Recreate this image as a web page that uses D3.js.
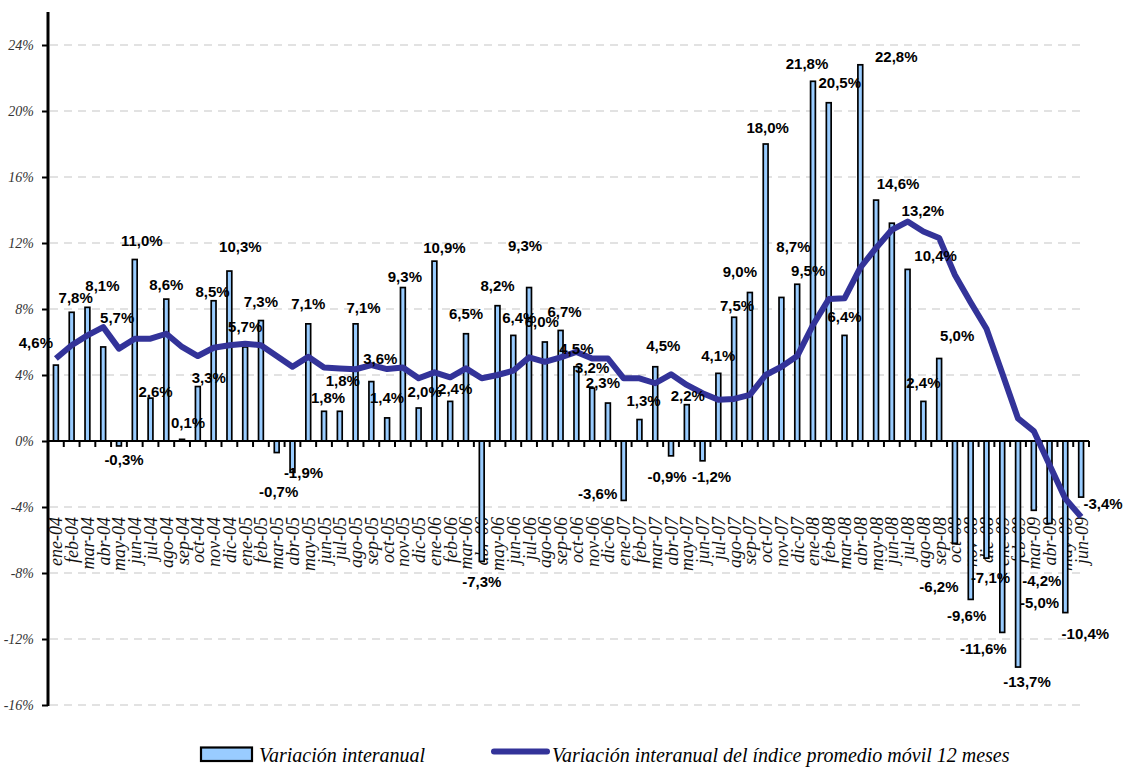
<!DOCTYPE html>
<html>
<head>
<meta charset="utf-8">
<script src="https://cdn.jsdelivr.net/npm/d3@7/dist/d3.min.js"></script>
<style>
  html, body { margin: 0; padding: 0; background: #ffffff; }
  svg { display: block; }
  .serif { font-family: "Liberation Serif", "Times New Roman", "DejaVu Serif", serif; font-style: italic; }
  .sans { font-family: "Liberation Sans", Arial, sans-serif; font-weight: bold; }
</style>
</head>
<body>
<svg id="chart" width="1128" height="769"></svg>
<script>
// Monthly categories, ene-04 .. jun-09
const categories = [
  "ene-04","feb-04","mar-04","abr-04","may-04","jun-04","jul-04","ago-04","sep-04","oct-04","nov-04","dic-04",
  "ene-05","feb-05","mar-05","abr-05","may-05","jun-05","jul-05","ago-05","sep-05","oct-05","nov-05","dic-05",
  "ene-06","feb-06","mar-06","abr-06","may-06","jun-06","jul-06","ago-06","sep-06","oct-06","nov-06","dic-06",
  "ene-07","feb-07","mar-07","abr-07","may-07","jun-07","jul-07","ago-07","sep-07","oct-07","nov-07","dic-07",
  "ene-08","feb-08","mar-08","abr-08","may-08","jun-08","jul-08","ago-08","sep-08","oct-08","nov-08","dic-08",
  "ene-09","feb-09","mar-09","abr-09","may-09","jun-09"
];

// Variación interanual (%)
const interanual = [
  4.6, 7.8, 8.1, 5.7, -0.3, 11.0, 2.6, 8.6, 0.1, 3.3, 8.5, 10.3,
  5.7, 7.3, -0.7, -1.9, 7.1, 1.8, 1.8, 7.1, 3.6, 1.4, 9.3, 2.0,
  10.9, 2.4, 6.5, -7.3, 8.2, 6.4, 9.3, 6.0, 6.7, 4.5, 3.2, 2.3,
  -3.6, 1.3, 4.5, -0.9, 2.2, -1.2, 4.1, 7.5, 9.0, 18.0, 8.7, 9.5,
  21.8, 20.5, 6.4, 22.8, 14.6, 13.2, 10.4, 2.4, 5.0, -6.2, -9.6, -7.1,
  -11.6, -13.7, -4.2, -5.0, -10.4, -3.4
];

// Variación interanual del índice promedio móvil 12 meses (%)
const promedioMovil = [
  5.0, 5.8, 6.4, 6.9, 5.6, 6.2, 6.2, 6.5, 5.7, 5.15, 5.65, 5.8,
  5.9, 5.8, 5.15, 4.5, 5.1, 4.45, 4.4, 4.35, 4.6, 4.36, 4.46, 3.8,
  4.16, 3.86, 4.4, 3.8, 4.0, 4.26, 5.07, 4.8, 5.07, 5.4, 5.0, 5.0,
  3.8, 3.8, 3.5, 4.04, 3.4, 2.9, 2.5, 2.55, 2.8, 4.0, 4.5, 5.15,
  7.03, 8.6, 8.65, 10.5, 11.7, 12.8, 13.3, 12.7, 12.3, 10.06, 8.4, 6.8,
  4.1, 1.37, 0.6, -1.45, -3.5, -4.6
];

// Y axis tick values (%)
const yTicks = [-16, -12, -8, -4, 0, 4, 8, 12, 16, 20, 24];

// Legend entries
const legendBarText = "Variación interanual";
const legendLineText = "Variación interanual del índice promedio móvil 12 meses";

// Hand-placed data label nudges [dx, dy] from the end of each bar (px)
const labelNudge = [
  [-20,-22],[4,-15],[15,-22],[14,-29],[5,14],[7,-19],[5,-6],[0,-14],[6,-17],[11,-9],[-1,-9],[11,-24],
  [0,-20],[0,-19],[2,39],[11,0],[0,-20],[4,-14],[3,-31],[8,-16],[9,-23],[0,-20],[2,-11],[6,-16],
  [10,-13],[5,-13],[0,-20],[0,20],[0,-20],[6,-18],[-4,-42],[-3,-20],[4,-19],[0,-18],[0,-20],[-5,-20],
  [-26,-7],[4,-19],[8,-21],[-4,21],[1,-9],[9,16],[0,-18],[3,-12],[-10,-21],[2,-16],[12,-51],[11,-14],
  [-6,-18],[11,-20],[0,-19],[36,-8],[22,-16],[31,-12],[28,-14],[0,-19],[18,-23],[-16,43],[-4,16],[4,20],
  [-19,16],[9,15],[8,70],[-10,79],[20,21],[22,7]
];

const data = categories.map((c, i) => ({
  cat: c, bar: interanual[i], avg: promedioMovil[i], nudge: labelNudge[i]
}));

const svg = d3.select("#chart");
const plot = { left: 48, right: 1089, top: 12, bottom: 705 };

const x = d3.scaleBand()
  .domain(categories)
  .range([plot.left, plot.right])
  .paddingInner(0)
  .paddingOuter(0);

const y = d3.scaleLinear()
  .domain([-16, 26])
  .range([plot.bottom, plot.top]);

const cx = d => x(d) + x.bandwidth() / 2;
const fmt = v => v.toFixed(1).replace(".", ",") + "%";

// Dashed horizontal gridlines
svg.append("g")
  .selectAll("line")
  .data(yTicks.filter(t => t !== 0))
  .join("line")
  .attr("x1", plot.left + 2)
  .attr("x2", plot.right - 4)
  .attr("y1", d => y(d))
  .attr("y2", d => y(d))
  .attr("stroke", "#c6c6c6")
  .attr("stroke-width", 1.2)
  .attr("stroke-dasharray", "8,6");

// Y axis
const yAxis = d3.axisLeft(y)
  .tickValues(yTicks)
  .tickSize(6)
  .tickPadding(8)
  .tickFormat(d => d + "%");

const gy = svg.append("g")
  .attr("transform", `translate(${plot.left},0)`)
  .call(yAxis);
gy.attr("font-family", null).attr("font-size", null);
gy.select(".domain").remove();
gy.selectAll(".tick line").attr("stroke", "#000").attr("stroke-width", 2);
gy.selectAll(".tick text")
  .attr("class", "serif")
  .style("font-size", "14px")
  .attr("fill", "#333");

svg.append("line")
  .attr("x1", plot.left).attr("x2", plot.left)
  .attr("y1", plot.top).attr("y2", y(-16) + 1)
  .attr("stroke", "#000").attr("stroke-width", 3);

// Category labels, rotated, in a band below the axis
svg.append("g")
  .selectAll("text")
  .data(categories)
  .join("text")
  .attr("class", "serif")
  .attr("transform", d => `translate(${cx(d)},${y(-4.6)}) rotate(-90)`)
  .attr("text-anchor", "end")
  .attr("dy", "0.36em")
  .style("font-size", "18px")
  .attr("fill", "#111")
  .text(d => d);

// Bars
const barW = 4.8;
svg.append("g")
  .selectAll("rect")
  .data(data)
  .join("rect")
  .attr("x", d => cx(d.cat) - barW / 2)
  .attr("width", barW)
  .attr("y", d => y(Math.max(0, d.bar)))
  .attr("height", d => Math.abs(y(d.bar) - y(0)))
  .attr("fill", "#99ccff")
  .attr("stroke", "#000")
  .attr("stroke-width", 1.7);

// Zero line with category ticks
svg.append("line")
  .attr("x1", plot.left).attr("x2", plot.right)
  .attr("y1", y(0)).attr("y2", y(0))
  .attr("stroke", "#000").attr("stroke-width", 2.2);

const boundaries = categories.map(c => x(c)).concat([plot.right]);
svg.append("g")
  .selectAll("line")
  .data(boundaries)
  .join("line")
  .attr("x1", d => d).attr("x2", d => d)
  .attr("y1", y(0)).attr("y2", y(0) + 6)
  .attr("stroke", "#000").attr("stroke-width", 2);

// Moving-average line
const line = d3.line()
  .x(d => cx(d.cat))
  .y(d => y(d.avg));

svg.append("path")
  .datum(data)
  .attr("d", line)
  .attr("fill", "none")
  .attr("stroke", "#333399")
  .attr("stroke-width", 6)
  .attr("stroke-linejoin", "round")
  .attr("stroke-linecap", "butt");

// Data labels
svg.append("g")
  .selectAll("text")
  .data(data)
  .join("text")
  .attr("class", "sans")
  .attr("x", d => cx(d.cat) + d.nudge[0])
  .attr("y", d => y(d.bar) + d.nudge[1])
  .attr("dy", "0.35em")
  .attr("text-anchor", "middle")
  .style("font-size", "15px")
  .attr("fill", "#000")
  .text(d => fmt(d.bar));

// Legend
const lg = svg.append("g");
lg.append("rect")
  .attr("x", 201).attr("y", 747.5)
  .attr("width", 51).attr("height", 13.5)
  .attr("fill", "#99ccff")
  .attr("stroke", "#000").attr("stroke-width", 2.2);
lg.append("text")
  .attr("class", "serif")
  .attr("x", 259).attr("y", 762)
  .style("font-size", "20px")
  .attr("fill", "#000")
  .text(legendBarText);
lg.append("line")
  .attr("x1", 494).attr("x2", 547)
  .attr("y1", 751.5).attr("y2", 751.5)
  .attr("stroke", "#333399").attr("stroke-width", 6)
  .attr("stroke-linecap", "round");
lg.append("text")
  .attr("class", "serif")
  .attr("x", 552).attr("y", 762)
  .style("font-size", "20px")
  .attr("fill", "#000")
  .text(legendLineText);
</script>
</body>
</html>
